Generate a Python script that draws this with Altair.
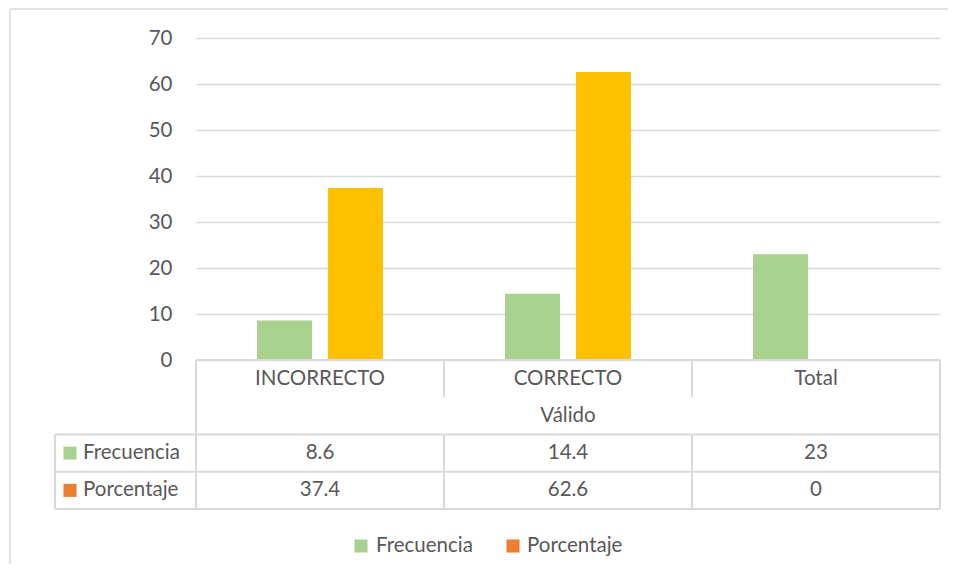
import altair as alt
import pandas as pd

categories = ["INCORRECTO", "CORRECTO", "Total"]
frecuencia = [8.6, 14.4, 23]
porcentaje = [37.4, 62.6, 0]
frecuencia_txt = ["8.6", "14.4", "23"]
porcentaje_txt = ["37.4", "62.6", "0"]
series = ["Frecuencia", "Porcentaje"]
bar_colors = ["#A9D18E", "#FFC000"]
legend_colors = ["#A9D18E", "#ED7D31"]
group_label = "Válido"
y_ticks = [0, 10, 20, 30, 40, 50, 60, 70]

FONT = "Lato"
FS = 20.5
TXT = "#595959"
LINE = "#D9D9D9"
W, PH = 744, 322
ROWH = 37.25
TH = ROWH * 4

bars_df = pd.DataFrame(
    [{"cat": c, "serie": series[0], "val": v} for c, v in zip(categories, frecuencia)]
    + [{"cat": c, "serie": series[1], "val": v} for c, v in zip(categories, porcentaje)]
)

xscale = alt.Scale(domain=categories, paddingInner=0, paddingOuter=0)
tscale = alt.Scale(domain=[0, 4], range=[PH, PH + TH])

bars = alt.Chart(bars_df).mark_bar().encode(
    x=alt.X("cat:N", scale=xscale, sort=categories, axis=None),
    xOffset=alt.XOffset("serie:N", sort=series,
                        scale=alt.Scale(paddingInner=0.225, paddingOuter=0.86)),
    y=alt.Y("val:Q", scale=alt.Scale(domain=[0, 70], range=[PH, 0]),
            axis=alt.Axis(values=y_ticks, grid=True, gridColor=LINE, gridWidth=1.3,
                          domain=False, ticks=False, labelPadding=24, labelFontSize=FS,
                          labelColor=TXT, labelFont=FONT, title=None)),
    fill=alt.Fill("serie:N", scale=alt.Scale(domain=series, range=bar_colors), legend=None),
)

# table cells
cells = pd.DataFrame(
    [{"cat": c, "row": 0.5, "t": c} for c in categories]
    + [{"cat": categories[1], "row": 1.5, "t": group_label}]
    + [{"cat": c, "row": 2.5, "t": t} for c, t in zip(categories, frecuencia_txt)]
    + [{"cat": c, "row": 3.5, "t": t} for c, t in zip(categories, porcentaje_txt)]
)
cell_text = alt.Chart(cells).mark_text(font=FONT, fontSize=FS, color=TXT, baseline="middle").encode(
    x=alt.X("cat:N", scale=xscale, sort=categories, axis=None),
    y=alt.Y("row:Q", scale=tscale, axis=None),
    text="t:N",
)

# left column: swatches and labels
left_df = pd.DataFrame({"row": [2.5, 3.5], "serie": series, "col": legend_colors})
left_sw = alt.Chart(left_df).mark_square(size=170, opacity=1).encode(
    x=alt.value(-126), y=alt.Y("row:Q", scale=tscale, axis=None),
    color=alt.Color("col:N", scale=None),
)
left_tx = alt.Chart(left_df).mark_text(font=FONT, fontSize=FS, color=TXT, align="left",
                                       baseline="middle").encode(
    x=alt.value(-113), y=alt.Y("row:Q", scale=tscale, axis=None), text="serie:N",
)

# horizontal table lines
h_top = pd.DataFrame({"row": [0]})
h_rows = pd.DataFrame({"row": [2, 3, 4]})
hl_top = alt.Chart(h_top).mark_rule(color=LINE, strokeWidth=2).encode(
    x=alt.value(0), x2=alt.value(W), y=alt.Y("row:Q", scale=tscale, axis=None))
hl_rows = alt.Chart(h_rows).mark_rule(color=LINE, strokeWidth=2).encode(
    x=alt.value(-141), x2=alt.value(W), y=alt.Y("row:Q", scale=tscale, axis=None))

# vertical table lines
v_df = pd.DataFrame([
    {"cat": categories[0], "r0": 0, "r1": 4},
    {"cat": categories[1], "r0": 0, "r1": 1},
    {"cat": categories[1], "r0": 2, "r1": 4},
    {"cat": categories[2], "r0": 0, "r1": 1},
    {"cat": categories[2], "r0": 2, "r1": 4},
])
vl = alt.Chart(v_df).mark_rule(color=LINE, strokeWidth=2).encode(
    x=alt.X("cat:N", scale=xscale, sort=categories, axis=None, bandPosition=0),
    y=alt.Y("r0:Q", scale=tscale, axis=None), y2="r1:Q")
v_end = pd.DataFrame([{"cat": categories[2], "r0": 0, "r1": 4}])
vl_end = alt.Chart(v_end).mark_rule(color=LINE, strokeWidth=2).encode(
    x=alt.X("cat:N", scale=xscale, sort=categories, axis=None, bandPosition=1),
    y=alt.Y("r0:Q", scale=tscale, axis=None), y2="r1:Q")
v_left = pd.DataFrame([{"r0": 2, "r1": 4}])
vl_left = alt.Chart(v_left).mark_rule(color=LINE, strokeWidth=2).encode(
    x=alt.value(-141), y=alt.Y("r0:Q", scale=tscale, axis=None), y2="r1:Q")

# bottom legend
leg_df = pd.DataFrame({"serie": series, "col": legend_colors, "sx": [165, 317], "tx": [180, 331]})
leg_sw = alt.Chart(leg_df).mark_square(size=170, opacity=1).encode(
    x=alt.X("sx:Q", scale=None), y=alt.value(PH + TH + 37),
    color=alt.Color("col:N", scale=None),
)
leg_tx = alt.Chart(leg_df).mark_text(font=FONT, fontSize=FS, color=TXT, align="left",
                                     baseline="middle").encode(
    x=alt.X("tx:Q", scale=None), y=alt.value(PH + TH + 37), text="serie:N",
)

# outer chart border (top and left edges visible)
k = pd.DataFrame({"k": [0]})
frame_top = alt.Chart(k).mark_rule(color=LINE, strokeWidth=1.5).encode(
    x=alt.value(-186), x2=alt.value(W + 20), y=alt.value(-29))
frame_left = alt.Chart(k).mark_rule(color=LINE, strokeWidth=1.5).encode(
    x=alt.value(-186), y=alt.value(-29), y2=alt.value(PH + TH + 80))

chart = alt.layer(
    frame_top, frame_left, bars, hl_top, hl_rows, vl, vl_end, vl_left, cell_text,
    left_sw, left_tx, leg_sw, leg_tx
).resolve_scale(y="independent", color="independent").properties(
    width=W, height=PH + TH,
    padding={"left": 188, "top": 30, "right": 8, "bottom": 55},
    autosize=alt.AutoSizeParams(type="none"),
).configure_view(stroke=None)

chart.save("out.html", embed_options={"renderer": "svg", "actions": False})
